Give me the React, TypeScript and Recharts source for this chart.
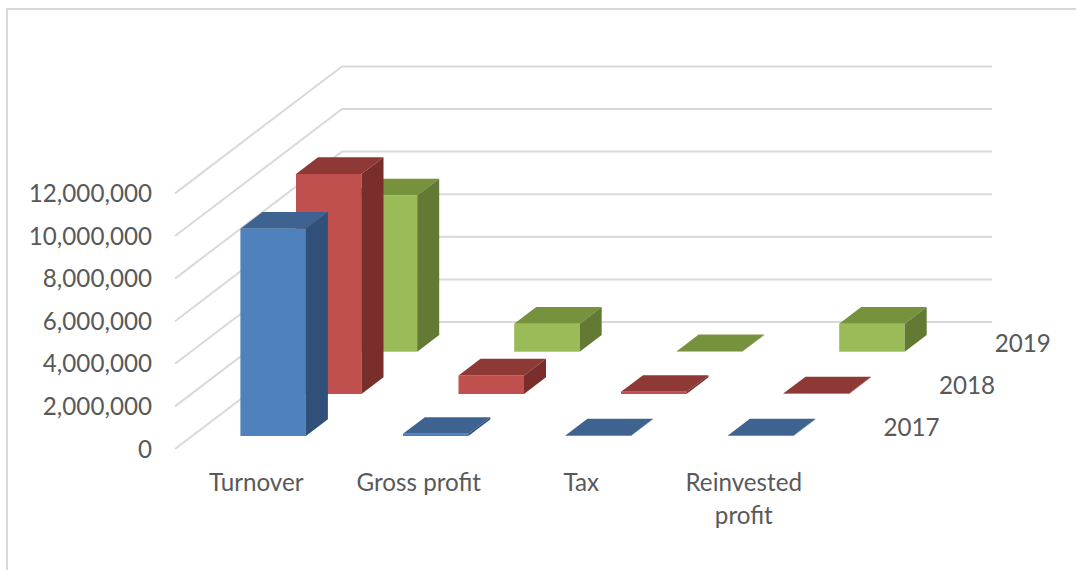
import { Bar, BarChart, CartesianGrid, XAxis, YAxis } from "recharts"

const categories = ["Turnover", "Gross profit", "Tax", "Reinvested profit"]
const values2017 = [9730000, 100000, 25000, 25000]
const values2018 = [10330000, 870000, 100000, 30000]
const values2019 = [7340000, 1310000, 25000, 1310000]
const yTicks = [0, 2000000, 4000000, 6000000, 8000000, 10000000, 12000000]

const chartData = categories.map((name, i) => ({
    name,
    y2017: values2017[i],
    y2018: values2018[i],
    y2019: values2019[i],
}))

const TEXT = "#595959"
const FONT = "Lato, 'Open Sans', sans-serif"
const FONT_SIZE = 24.2

// how far the floor runs back from the front edge of the axis
const WALL_DX = 167
const WALL_DY = -127
// size of the side/top faces of a column
const DEPTH_DX = 22
const DEPTH_DY = -16.7

type Palette = { front: string; top: string; side: string }

// Column drawn as a 3D box, moved back along the floor to its own row.
function makeBox(label: string, colors: Palette, shiftX: number, shiftY: number) {
    return function Box(props: any) {
        const { x, y, width, height, index } = props
        const left = x + shiftX
        const right = left + width
        const top = y + shiftY
        const bottom = top + height
        return (
            <g>
                <rect x={left} y={top} width={width} height={height} fill={colors.front} />
                <polygon
                    points={`${left},${top} ${left + DEPTH_DX},${top + DEPTH_DY} ${right + DEPTH_DX},${top + DEPTH_DY} ${right},${top}`}
                    fill={colors.top}
                />
                <polygon
                    points={`${right},${top} ${right + DEPTH_DX},${top + DEPTH_DY} ${right + DEPTH_DX},${bottom + DEPTH_DY} ${right},${bottom}`}
                    fill={colors.side}
                />
                {index === categories.length - 1 && (
                    <text x={left + 155.5} y={bottom - 8} dy="0.35em" fill={TEXT} fontSize={FONT_SIZE} fontFamily={FONT}>
                        {label}
                    </text>
                )}
            </g>
        )
    }
}

const box2017 = makeBox("2017", { front: "#4F81BD", top: "#3E6391", side: "#2F5078" }, 16.4, -13)
const box2018 = makeBox("2018", { front: "#C0504D", top: "#8F3937", side: "#7A2E2C" }, 72, -55)
const box2019 = makeBox("2019", { front: "#9BBB59", top: "#76923C", side: "#637A35" }, 127.7, -97.3)

// Gridline runs up the side wall first and then along the back wall.
function GridLine(props: any) {
    const { x1, y1, x2, y2 } = props
    return (
        <polyline
            points={`${x1},${y1} ${x1 + WALL_DX},${y1 + WALL_DY} ${x2 + WALL_DX},${y2 + WALL_DY}`}
            fill="none"
            stroke="#D9D9D9"
            strokeWidth={2}
        />
    )
}

function CategoryTick(props: any) {
    const { x, y, payload } = props
    const words: string[] = payload.value.length > 12 ? payload.value.split(" ") : [payload.value]
    return (
        <text x={x} y={y + 42} textAnchor="middle" fill={TEXT} fontSize={FONT_SIZE} fontFamily={FONT}>
            {words.map((word, i) => (
                <tspan key={word} x={x} dy={i === 0 ? 0 : 33}>
                    {word}
                </tspan>
            ))}
        </text>
    )
}

export default function App() {
    return (
        <div style={{ position: "absolute", left: 0, top: 0, width: 1076, height: 570, background: "#fff", overflow: "hidden" }}>
            <div
                style={{
                    position: "absolute",
                    left: 6,
                    top: 8,
                    width: 1070,
                    height: 562,
                    borderTop: "2px solid #D9D9D9",
                    borderLeft: "2px solid #D9D9D9",
                    boxSizing: "border-box",
                }}
            />
            <div style={{ position: "absolute", left: 0, top: 0 }}>
                <BarChart
                    width={1076}
                    height={570}
                    data={chartData}
                    margin={{ top: 193.4, right: 251, bottom: 0, left: 0 }}
                    barSize={65.5}
                    barGap={-65.5}
                >
                    <CartesianGrid horizontal={GridLine} vertical={false} />
                    <XAxis
                        dataKey="name"
                        height={121}
                        axisLine={false}
                        tickLine={false}
                        tickSize={0}
                        tickMargin={0}
                        interval={0}
                        tick={CategoryTick}
                    />
                    <YAxis
                        width={175}
                        domain={[0, 12000000]}
                        ticks={yTicks}
                        interval={0}
                        axisLine={false}
                        tickLine={false}
                        tickSize={0}
                        tickMargin={23}
                        tickFormatter={(v: number) => v.toLocaleString("en-US")}
                        tick={{ fill: TEXT, fontSize: FONT_SIZE, fontFamily: FONT }}
                    />
                    <Bar dataKey="y2019" shape={box2019} isAnimationActive={false} />
                    <Bar dataKey="y2018" shape={box2018} isAnimationActive={false} />
                    <Bar dataKey="y2017" shape={box2017} isAnimationActive={false} />
                </BarChart>
            </div>
        </div>
    )
}
